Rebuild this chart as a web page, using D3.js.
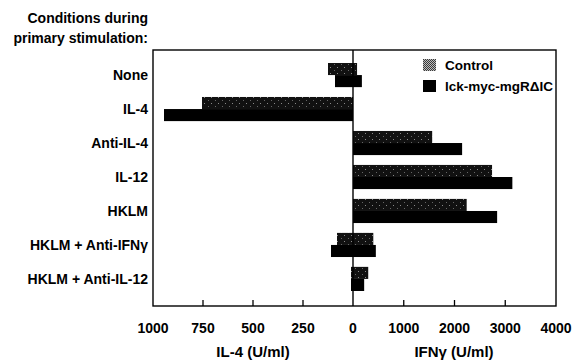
<!DOCTYPE html>
<html>
<head>
<meta charset="utf-8">
<script src="https://cdn.jsdelivr.net/npm/d3@7"></script>
<style>
  html, body { margin: 0; padding: 0; background: #fff; }
  svg { display: block; }
  text { font-family: "Liberation Sans", Arial, Helvetica, sans-serif; font-weight: bold; fill: #000; }
</style>
</head>
<body>
<svg id="chart" width="582" height="363"></svg>
<script>
const categories = ["None", "IL-4", "Anti-IL-4", "IL-12", "HKLM", "HKLM + Anti-IFN\u03b3", "HKLM + Anti-IL-12"];
const controlIL4 = [125, 755, 0, 0, 0, 80, 10];
const lckIL4     = [90, 945, 0, 0, 0, 110, 10];
const controlIFN = [80, 0, 1560, 2740, 2240, 400, 300];
const lckIFN     = [175, 0, 2150, 3140, 2840, 450, 220];
const il4Ticks = [1000, 750, 500, 250, 0];
const ifnTicks = [1000, 2000, 3000, 4000];
const seriesNames = ["Control", "lck-myc-mgR\u0394IC"];

const svg = d3.select("#chart");
const plotLeft = 153, plotRight = 556, plotTop = 50, plotBottom = 306, zeroX = 353;

const xL = d3.scaleLinear().domain([1000, 0]).range([plotLeft, zeroX]);
const xR = d3.scaleLinear().domain([0, 4000]).range([zeroX, plotRight]);
const y = d3.scaleBand().domain(categories).range([63, 291]).paddingInner(0.29).paddingOuter(0);
const bh = y.bandwidth() / 2;

// patterns
const defs = svg.append("defs");
const pb = defs.append("pattern").attr("id", "ctrlBar").attr("patternUnits", "userSpaceOnUse")
  .attr("width", 7).attr("height", 6);
pb.append("rect").attr("width", 7).attr("height", 6).attr("fill", "#111");
pb.append("rect").attr("x", 1).attr("y", 1).attr("width", 1).attr("height", 1).attr("fill", "#8a8a8a");
pb.append("rect").attr("x", 5).attr("y", 4).attr("width", 1).attr("height", 1).attr("fill", "#666");
const pl = defs.append("pattern").attr("id", "ctrlLegend").attr("patternUnits", "userSpaceOnUse")
  .attr("width", 2).attr("height", 2);
pl.append("rect").attr("width", 2).attr("height", 2).attr("fill", "#bdbdbd");
pl.append("rect").attr("width", 1).attr("height", 1).attr("fill", "#3a3a3a");
pl.append("rect").attr("x", 1).attr("y", 1).attr("width", 1).attr("height", 1).attr("fill", "#3a3a3a");

const series = [
  { il4: controlIL4, ifn: controlIFN, fill: "url(#ctrlBar)", off: 0 },
  { il4: lckIL4, ifn: lckIFN, fill: "#000", off: 1 }
];

series.forEach(s => {
  const g = svg.append("g");
  categories.forEach((c, i) => {
    const yy = y(c) + s.off * bh;
    if (s.il4[i] > 0) {
      g.append("rect").attr("x", xL(s.il4[i])).attr("y", yy)
        .attr("width", zeroX - xL(s.il4[i])).attr("height", bh).attr("fill", s.fill);
    }
    if (s.ifn[i] > 0) {
      g.append("rect").attr("x", zeroX).attr("y", yy)
        .attr("width", xR(s.ifn[i]) - zeroX).attr("height", bh).attr("fill", s.fill);
    }
  });
});

// frame
svg.append("rect").attr("x", plotLeft).attr("y", plotTop).attr("width", plotRight - plotLeft).attr("height", plotBottom - plotTop)
  .attr("fill", "none").attr("stroke", "#000").attr("stroke-width", 1.4);
svg.append("line").attr("x1", zeroX).attr("x2", zeroX).attr("y1", plotTop).attr("y2", plotBottom)
  .attr("stroke", "#000").attr("stroke-width", 1.4);

// ticks (inward)
const tickG = svg.append("g");
il4Ticks.filter(t => t !== 1000 && t !== 0).forEach(t => {
  tickG.append("line").attr("x1", xL(t)).attr("x2", xL(t)).attr("y1", plotBottom).attr("y2", plotBottom - 6)
    .attr("stroke", "#000").attr("stroke-width", 1.3);
});
ifnTicks.filter(t => t !== 4000).forEach(t => {
  tickG.append("line").attr("x1", xR(t)).attr("x2", xR(t)).attr("y1", plotBottom).attr("y2", plotBottom - 6)
    .attr("stroke", "#000").attr("stroke-width", 1.3);
});

// tick labels
il4Ticks.forEach(t => {
  svg.append("text").attr("x", xL(t)).attr("y", 333).attr("text-anchor", "middle")
    .attr("font-size", 14).text(t);
});
ifnTicks.forEach(t => {
  svg.append("text").attr("x", xR(t)).attr("y", 333).attr("text-anchor", "middle")
    .attr("font-size", 14).text(t);
});

// axis titles
svg.append("text").attr("x", 253).attr("y", 357).attr("text-anchor", "middle").attr("font-size", 15).text("IL-4 (U/ml)");
svg.append("text").attr("x", 454).attr("y", 357).attr("text-anchor", "middle").attr("font-size", 15).text("IFN\u03b3 (U/ml)");

// category labels
categories.forEach(c => {
  svg.append("text").attr("x", 148).attr("y", y(c) + bh).attr("dy", "0.36em")
    .attr("text-anchor", "end").attr("font-size", 14).text(c);
});

// heading
svg.append("text").attr("x", 148).attr("y", 23).attr("text-anchor", "end").attr("font-size", 14).text("Conditions during");
svg.append("text").attr("x", 148).attr("y", 43).attr("text-anchor", "end").attr("font-size", 14).text("primary stimulation:");

// legend
const lg = svg.append("g");
const legendFills = ["url(#ctrlLegend)", "#000"];
seriesNames.forEach((n, i) => {
  const ly = 59 + i * 21;
  lg.append("rect").attr("x", 423).attr("y", ly).attr("width", 13).attr("height", 12).attr("fill", legendFills[i]);
  lg.append("text").attr("x", 445).attr("y", ly + 11).attr("font-size", 13.5).text(n);
});
</script>
</body>
</html>
